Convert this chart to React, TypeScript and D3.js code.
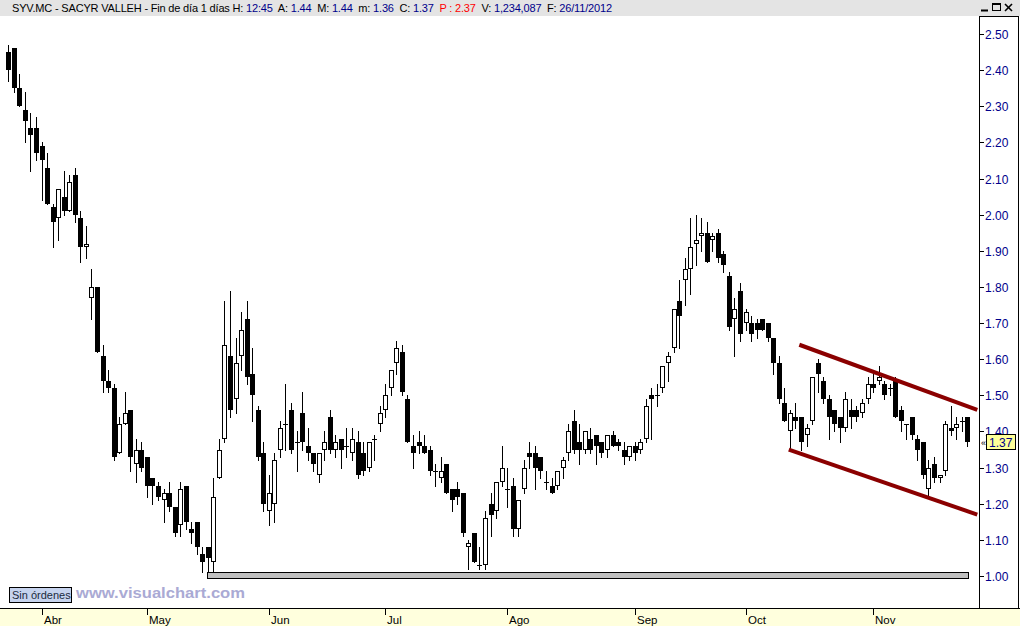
import React from "react";
import * as d3 from "d3";

// OHLC daily candles, SYV.MC (late Mar 2012 .. 26 Nov 2012)
const opens = [2.45,2.46,2.35,2.29,2.24,2.24,2.19,2.13,2.02,1.99,2.05,2.01,2.11,1.99,1.91,1.77,1.80,1.61,1.54,1.52,1.34,1.42,1.46,1.31,1.35,1.33,1.27,1.25,1.21,1.23,1.19,1.14,1.25,1.13,1.15,1.06,1.08,1.04,1.27,1.38,1.61,1.49,1.61,1.71,1.56,1.46,1.34,1.18,1.20,1.35,1.42,1.46,1.37,1.45,1.36,1.34,1.28,1.35,1.44,1.35,1.38,1.36,1.34,1.37,1.34,1.30,1.38,1.42,1.46,1.52,1.59,1.62,1.49,1.36,1.37,1.36,1.35,1.29,1.27,1.31,1.24,1.24,1.23,1.08,1.12,1.03,1.03,1.20,1.18,1.26,1.24,1.25,1.13,1.24,1.34,1.34,1.33,1.26,1.25,1.25,1.30,1.34,1.43,1.37,1.35,1.38,1.39,1.37,1.35,1.39,1.37,1.35,1.33,1.36,1.35,1.38,1.50,1.50,1.52,1.59,1.63,1.76,1.82,1.85,1.92,1.94,1.95,1.93,1.95,1.89,1.83,1.71,1.79,1.70,1.70,1.70,1.71,1.70,1.66,1.59,1.48,1.40,1.44,1.44,1.39,1.43,1.59,1.54,1.49,1.46,1.44,1.41,1.46,1.46,1.45,1.49,1.53,1.54,1.53,1.52,1.54,1.46,1.42,1.44,1.38,1.37,1.24,1.31,1.27,1.29,1.41,1.41,1.43,1.44];
const highs = [2.47,2.46,2.39,2.34,2.28,2.27,2.20,2.17,2.03,2.07,2.12,2.11,2.13,2.01,1.97,1.85,1.80,1.64,1.57,1.53,1.44,1.51,1.46,1.38,1.37,1.33,1.27,1.26,1.24,1.26,1.19,1.26,1.25,1.15,1.15,1.08,1.08,1.27,1.38,1.76,1.79,1.66,1.73,1.76,1.63,1.47,1.37,1.28,1.34,1.43,1.53,1.48,1.40,1.51,1.41,1.34,1.34,1.40,1.46,1.39,1.38,1.41,1.41,1.40,1.37,1.37,1.39,1.47,1.53,1.57,1.65,1.64,1.50,1.39,1.40,1.39,1.36,1.31,1.33,1.31,1.24,1.26,1.23,1.10,1.12,1.08,1.18,1.23,1.26,1.36,1.30,1.27,1.21,1.32,1.37,1.36,1.33,1.29,1.27,1.29,1.33,1.42,1.46,1.42,1.40,1.41,1.39,1.37,1.39,1.40,1.38,1.37,1.36,1.37,1.38,1.49,1.52,1.53,1.58,1.62,1.74,1.82,1.88,1.99,2.00,1.99,1.98,1.95,1.96,1.90,1.84,1.77,1.81,1.74,1.72,1.71,1.71,1.70,1.66,1.61,1.52,1.46,1.48,1.44,1.42,1.55,1.60,1.55,1.50,1.46,1.44,1.51,1.49,1.47,1.49,1.55,1.56,1.58,1.54,1.53,1.55,1.47,1.42,1.44,1.39,1.37,1.32,1.33,1.28,1.43,1.47,1.44,1.44,1.44];
const lows = [2.37,2.34,2.30,2.20,2.12,2.15,2.04,2.03,1.91,1.93,2.00,2.01,1.98,1.87,1.88,1.71,1.62,1.51,1.51,1.32,1.34,1.42,1.29,1.26,1.29,1.22,1.20,1.21,1.15,1.18,1.11,1.11,1.13,1.09,1.06,1.01,1.01,1.01,1.27,1.37,1.44,1.45,1.57,1.53,1.43,1.32,1.18,1.14,1.15,1.33,1.35,1.34,1.29,1.35,1.32,1.29,1.26,1.32,1.34,1.33,1.30,1.33,1.32,1.27,1.28,1.29,1.32,1.40,1.44,1.50,1.56,1.50,1.37,1.30,1.34,1.34,1.28,1.25,1.26,1.23,1.18,1.20,1.11,1.02,1.04,1.02,1.02,1.11,1.16,1.25,1.19,1.11,1.11,1.23,1.30,1.24,1.27,1.24,1.23,1.24,1.27,1.32,1.34,1.31,1.34,1.34,1.31,1.33,1.33,1.36,1.35,1.31,1.32,1.32,1.34,1.37,1.38,1.47,1.51,1.54,1.62,1.63,1.75,1.78,1.86,1.90,1.87,1.90,1.87,1.84,1.68,1.61,1.65,1.68,1.65,1.66,1.68,1.65,1.56,1.48,1.43,1.35,1.41,1.35,1.36,1.42,1.51,1.48,1.38,1.40,1.37,1.40,1.41,1.43,1.44,1.48,1.51,1.53,1.49,1.50,1.44,1.40,1.38,1.38,1.32,1.27,1.22,1.26,1.26,1.28,1.39,1.38,1.40,1.36];
const closes = [2.40,2.35,2.30,2.26,2.22,2.17,2.15,2.03,1.98,2.07,2.01,2.09,2.00,1.91,1.92,1.80,1.62,1.54,1.52,1.33,1.42,1.45,1.33,1.35,1.30,1.25,1.25,1.22,1.23,1.19,1.12,1.24,1.15,1.12,1.08,1.04,1.05,1.22,1.35,1.64,1.46,1.59,1.68,1.55,1.50,1.33,1.20,1.23,1.32,1.41,1.42,1.35,1.37,1.37,1.34,1.31,1.34,1.37,1.35,1.37,1.35,1.36,1.38,1.28,1.29,1.37,1.38,1.45,1.50,1.57,1.63,1.51,1.37,1.34,1.36,1.34,1.29,1.29,1.29,1.23,1.21,1.22,1.12,1.09,1.04,1.03,1.16,1.17,1.26,1.30,1.24,1.13,1.21,1.30,1.33,1.30,1.29,1.26,1.23,1.29,1.32,1.40,1.35,1.35,1.40,1.35,1.36,1.34,1.39,1.36,1.36,1.33,1.36,1.34,1.37,1.47,1.49,1.50,1.58,1.61,1.74,1.72,1.85,1.91,1.93,1.95,1.87,1.94,1.88,1.86,1.69,1.74,1.67,1.73,1.67,1.68,1.68,1.66,1.59,1.49,1.43,1.45,1.43,1.37,1.41,1.55,1.56,1.49,1.44,1.42,1.41,1.49,1.44,1.44,1.48,1.53,1.52,1.55,1.50,1.52,1.44,1.43,1.42,1.39,1.35,1.28,1.30,1.27,1.28,1.42,1.40,1.42,1.43,1.37];

// month labels and the bar index where each month starts
const monthLabels = ["Abr", "May", "Jun", "Jul", "Ago", "Sep", "Oct", "Nov"];
const monthStartIdx = [6, 25, 47, 68, 90, 113, 133, 156];

// price axis ticks
const priceTicks = [1.0, 1.1, 1.2, 1.3, 1.4, 1.5, 1.6, 1.7, 1.8, 1.9, 2.0, 2.1, 2.2, 2.3, 2.4, 2.5];

// drawn objects (bar index, price)
const channelUpper = [[142.7, 1.64], [174.8, 1.46]];
const channelLower = [[140.8, 1.35], [174.8, 1.17]];
const supportLine = [[35.9, 1.0], [173.1, 1.0]];
const lastPrice = 1.37;

const headerParts: [string, string][] = [
  ["SYV.MC - SACYR VALLEH - Fin de día 1 días H: ", "#000"],
  ["12:45", "#00008b"],
  ["  A: ", "#000"],
  ["1.44", "#00008b"],
  ["  M: ", "#000"],
  ["1.44", "#00008b"],
  ["  m: ", "#000"],
  ["1.36", "#00008b"],
  ["  C: ", "#000"],
  ["1.37", "#00008b"],
  ["  P : 2.37", "#ff0000"],
  ["  V: ", "#000"],
  ["1,234,087", "#00008b"],
  ["  F: ", "#000"],
  ["26/11/2012", "#00008b"],
];

const W = 1020;
const H = 626;
const FONT = "'Liberation Sans', Arial, sans-serif";

export default function App() {
  const n = opens.length;
  const xs = d3.scaleLinear().domain([0, n - 1]).range([8.3, 967.3]);
  const ys = d3.scaleLinear().domain([1.0, 2.5]).range([576, 34]);
  const line = d3.line<number[]>().x((d) => xs(d[0])).y((d) => ys(d[1]));

  const candles = opens.map((o, i) => {
    const c = closes[i];
    const cx = Math.round(xs(i));
    const wx = cx + 0.5;
    const yh = Math.round(ys(highs[i]));
    const yl = Math.round(ys(lows[i]));
    const top = Math.round(ys(Math.max(o, c)));
    const bot = Math.round(ys(Math.min(o, c)));
    let body;
    if (o === c) {
      body = <line x1={cx - 2} x2={cx + 3} y1={top + 0.5} y2={top + 0.5} stroke="#000" strokeWidth={1} />;
    } else if (c < o) {
      body = <rect x={cx - 2} y={top} width={5} height={Math.max(1, bot - top)} fill="#000" />;
    } else {
      body = (
        <rect x={cx - 1.5} y={top + 0.5} width={4} height={Math.max(0, bot - top - 1)} fill="#fff" stroke="#000" strokeWidth={1} />
      );
    }
    return (
      <g key={i}>
        <line x1={wx} x2={wx} y1={yh} y2={yl + 1} stroke="#000" strokeWidth={1} />
        {body}
      </g>
    );
  });

  const sy = ys(supportLine[0][1]);

  return (
    <svg width={W} height={H} style={{ position: "fixed", left: 0, top: 0, background: "#fff" }} fontFamily={FONT}>
      <rect x={0} y={0} width={W} height={H} fill="#fff" />
      {/* header */}
      <rect x={0} y={0} width={W} height={16} fill="#e4e4e4" />
      <text x={12} y={12} fontSize={11} textLength={600} lengthAdjust="spacing">
        {headerParts.map((p, i) => (
          <tspan key={i} fill={p[1]} style={{ whiteSpace: "pre" }}>{p[0]}</tspan>
        ))}
      </text>
      {/* window buttons */}
      <g stroke="#000" strokeWidth={1} fill="none">
        <line x1={981} x2={988} y1={10.5} y2={10.5} strokeWidth={2} />
        <rect x={992.5} y={3.5} width={8} height={7} />
        <line x1={992.5} x2={1000.5} y1={4.5} y2={4.5} />
        <line x1={1005} x2={1012} y1={4} y2={11} strokeWidth={1.6} />
        <line x1={1012} x2={1005} y1={4} y2={11} strokeWidth={1.6} />
      </g>

      <defs>
        <clipPath id="plotclip">
          <rect x={0} y={16} width={979} height={592} />
        </clipPath>
      </defs>

      {/* support */}
      <rect x={Math.round(xs(supportLine[0][0])) + 0.5} y={Math.round(sy) - 3.5} width={Math.round(xs(supportLine[1][0]) - xs(supportLine[0][0]))} height={6} fill="#c0c0c0" stroke="#000" strokeWidth={1} />

      {/* candles */}
      <g>{candles}</g>

      {/* channel */}
      <g clipPath="url(#plotclip)">
        <path d={line(channelUpper) || ""} stroke="#8b0000" strokeWidth={4} fill="none" />
        <path d={line(channelLower) || ""} stroke="#8b0000" strokeWidth={4} fill="none" />
      </g>

      {/* right axis */}
      <rect x={979.5} y={16.5} width={39} height={592} fill="none" stroke="#000" strokeWidth={1} />
      {priceTicks.map((t) => {
        const y = Math.round(ys(t)) + 0.5;
        return (
          <g key={t}>
            <line x1={980} x2={984} y1={y} y2={y} stroke="#000" strokeWidth={1} />
            <text x={985} y={y + 4.5} fontSize={12} fill="#00008b">{t.toFixed(2)}</text>
          </g>
        );
      })}
      {/* last price marker */}
      <text x={981} y={Math.round(ys(lastPrice)) + 4} fontSize={9} fill="#000">«</text>
      <rect x={986.5} y={Math.round(ys(lastPrice)) - 7.5} width={29} height={15} fill="#ffff99" stroke="#000" strokeWidth={1} />
      <text x={989} y={Math.round(ys(lastPrice)) + 4.5} fontSize={12} fill="#00008b">{lastPrice.toFixed(2)}</text>

      {/* footer time axis */}
      <rect x={0} y={608} width={W} height={18} fill="#ffffdd" />
      <line x1={0} x2={W} y1={608.5} y2={608.5} stroke="#000" strokeWidth={1} />
      {monthStartIdx.map((idx, i) => {
        const x = Math.round(xs(idx)) + 0.5;
        return (
          <g key={monthLabels[i]}>
            <line x1={x} x2={x} y1={609} y2={615} stroke="#000" strokeWidth={1} />
            <text x={x + 1.5} y={624} fontSize={11.5} fill="#000">{monthLabels[i]}</text>
          </g>
        );
      })}

      {/* status box + watermark */}
      <rect x={9.5} y={587.5} width={62} height={15} fill="#c6d3ee" stroke="#000" strokeWidth={1} />
      <text x={12} y={599} fontSize={11} fill="#1a2a40">Sin órdenes</text>
      <text x={76} y={598} fontSize={15} fontWeight="bold" fill="#aaaad4" textLength={169} lengthAdjust="spacingAndGlyphs">www.visualchart.com</text>
    </svg>
  );
}
